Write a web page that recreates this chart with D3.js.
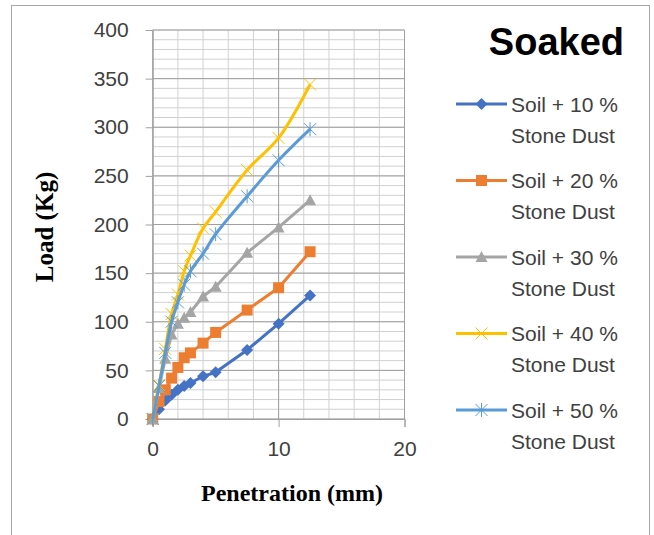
<!DOCTYPE html>
<html>
<head>
<meta charset="utf-8">
<script src="https://cdn.jsdelivr.net/npm/d3@7"></script>
<style>
  body { margin: 0; background: #fff; }
  svg { display: block; }
</style>
</head>
<body>
<script>
  // penetration readings (mm) shared by all series
  var penetration = [0, 0.5, 1, 1.5, 2, 2.5, 3, 4, 5, 7.5, 10, 12.5];

  // load (Kg) per mix
  var soil10 = [0, 10, 19, 25, 30, 34, 37, 44, 48, 71, 98, 127];
  var soil20 = [0, 18, 30, 42, 53, 63, 68, 78, 89, 112, 135, 172];
  var soil30 = [0, 32, 62, 87, 98, 104, 110, 126, 136, 171, 197, 225];
  var soil40 = [0, 35, 72, 108, 128, 152, 168, 196, 213, 256, 289, 344];
  var soil50 = [0, 34, 68, 100, 120, 138, 152, 170, 190, 229, 266, 298];

  var seriesNames = ["Soil + 10 %", "Soil + 20 %", "Soil + 30 %", "Soil + 40 %", "Soil + 50 %"];
  var xTicks = [0, 10, 20];
  var yTicks = [0, 50, 100, 150, 200, 250, 300, 350, 400];

  var series = [
    {name: seriesNames[0], values: soil10, color: "#4472C4", marker: "diamond", smooth: false},
    {name: seriesNames[1], values: soil20, color: "#ED7D31", marker: "square", smooth: false},
    {name: seriesNames[2], values: soil30, color: "#A5A5A5", marker: "triangle", smooth: false},
    {name: seriesNames[3], values: soil40, color: "#FFC000", marker: "x", smooth: true},
    {name: seriesNames[4], values: soil50, color: "#5B9BD5", marker: "star", smooth: true}
  ];

  var W = 654, H = 535;
  var svg = d3.select("body").append("svg").attr("width", W).attr("height", H);

  // outer chart frame (bottom runs off the picture)
  svg.append("rect")
    .attr("x", 11.5).attr("y", 5.5)
    .attr("width", 638).attr("height", 560)
    .attr("fill", "none").attr("stroke", "#a6a6a6").attr("stroke-width", 1);

  var x = d3.scaleLinear().domain([0, 20]).range([152.7, 404.5]);
  var y = d3.scaleLinear().domain([0, 400]).range([419, 30]);

  var grid = svg.append("g");
  // minor gridlines
  grid.selectAll("line.vminor").data(d3.range(0, 21, 2)).enter().append("line")
    .attr("x1", d => x(d)).attr("x2", d => x(d))
    .attr("y1", y(0)).attr("y2", y(400))
    .attr("stroke", "#d0d0d0").attr("stroke-width", 1);
  grid.selectAll("line.hminor").data(d3.range(0, 401, 10)).enter().append("line")
    .attr("x1", x(0)).attr("x2", x(20))
    .attr("y1", d => y(d)).attr("y2", d => y(d))
    .attr("stroke", "#d0d0d0").attr("stroke-width", 1);
  // major gridlines
  grid.selectAll("line.vmajor").data(xTicks).enter().append("line")
    .attr("x1", d => x(d)).attr("x2", d => x(d))
    .attr("y1", y(0)).attr("y2", y(400))
    .attr("stroke", "#a0a0a0").attr("stroke-width", 1);
  grid.selectAll("line.hmajor").data(yTicks).enter().append("line")
    .attr("x1", x(0)).attr("x2", x(20))
    .attr("y1", d => y(d)).attr("y2", d => y(d))
    .attr("stroke", "#a0a0a0").attr("stroke-width", 1);

  // axes
  var xAxis = svg.append("g")
    .attr("transform", "translate(0," + y(0) + ")")
    .call(d3.axisBottom(x).tickValues(xTicks).tickSize(8).tickPadding(14));
  var yAxis = svg.append("g")
    .attr("transform", "translate(" + x(0) + ",0)")
    .call(d3.axisLeft(y).tickValues(yTicks).tickSize(7).tickPadding(17));
  [xAxis, yAxis].forEach(function (a) {
    a.select(".domain").attr("stroke", "#a0a0a0");
    a.selectAll(".tick line").attr("stroke", "#a0a0a0");
    a.selectAll("text")
      .attr("font-family", "Liberation Sans, Arial, sans-serif")
      .attr("font-size", 21).attr("fill", "#404040");
  });

  function markerPath(type) {
    if (type === "diamond") return "M0,-6L6,0L0,6L-6,0Z";
    if (type === "square") return "M-5.5,-5.5H5.5V5.5H-5.5Z";
    if (type === "triangle") return "M0,-6L6,5L-6,5Z";
    if (type === "x") return "M-6,-6L6,6M-6,6L6,-6";
    return "M-6,-6L6,6M-6,6L6,-6M0,-7V7";
  }
  function filled(type) { return type === "diamond" || type === "square" || type === "triangle"; }

  var plot = svg.append("g");
  series.forEach(function (s) {
    var pts = penetration.map(function (p, i) { return [p, s.values[i]]; });
    var line = d3.line()
      .x(d => x(d[0])).y(d => y(d[1]))
      .curve(s.smooth ? d3.curveCatmullRom.alpha(0.5) : d3.curveLinear);
    plot.append("path").datum(pts)
      .attr("d", line)
      .attr("fill", "none").attr("stroke", s.color)
      .attr("stroke-width", 3).attr("stroke-linejoin", "round");
    plot.selectAll(null).data(pts).enter().append("path")
      .attr("transform", d => "translate(" + x(d[0]) + "," + y(d[1]) + ")")
      .attr("d", markerPath(s.marker))
      .attr("fill", filled(s.marker) ? s.color : "none")
      .attr("stroke", s.color)
      .attr("stroke-width", filled(s.marker) ? 0 : 1);
  });

  // title
  svg.append("text")
    .attr("x", 624).attr("y", 55).attr("text-anchor", "end")
    .attr("font-family", "Liberation Sans, Arial, sans-serif")
    .attr("font-weight", "bold").attr("font-size", 38).attr("fill", "#000")
    .text("Soaked");

  // legend
  var legend = svg.append("g");
  series.forEach(function (s, i) {
    var ly = 104 + i * 76.5;
    var g = legend.append("g").attr("transform", "translate(0," + ly + ")");
    g.append("line").attr("x1", 456).attr("x2", 507).attr("y1", 0).attr("y2", 0)
      .attr("stroke", s.color).attr("stroke-width", 3);
    g.append("path").attr("transform", "translate(481.5,0)")
      .attr("d", markerPath(s.marker))
      .attr("fill", filled(s.marker) ? s.color : "none")
      .attr("stroke", s.color)
      .attr("stroke-width", filled(s.marker) ? 0 : 1);
    var t = g.append("text")
      .attr("font-family", "Liberation Sans, Arial, sans-serif")
      .attr("font-size", 21).attr("fill", "#404040");
    t.append("tspan").attr("x", 511).attr("y", 7.5).text(s.name);
    t.append("tspan").attr("x", 511).attr("y", 38.5).text("Stone Dust");
  });

  // axis titles
  svg.append("text")
    .attr("x", 292).attr("y", 501).attr("text-anchor", "middle")
    .attr("font-family", "Liberation Serif, Times New Roman, serif")
    .attr("font-weight", "bold").attr("font-size", 24).attr("fill", "#000")
    .text("Penetration (mm)");
  svg.append("text")
    .attr("transform", "translate(53,227) rotate(-90)")
    .attr("text-anchor", "middle")
    .attr("font-family", "Liberation Serif, Times New Roman, serif")
    .attr("font-weight", "bold").attr("font-size", 25).attr("fill", "#000")
    .text("Load (Kg)");
</script>
</body>
</html>
